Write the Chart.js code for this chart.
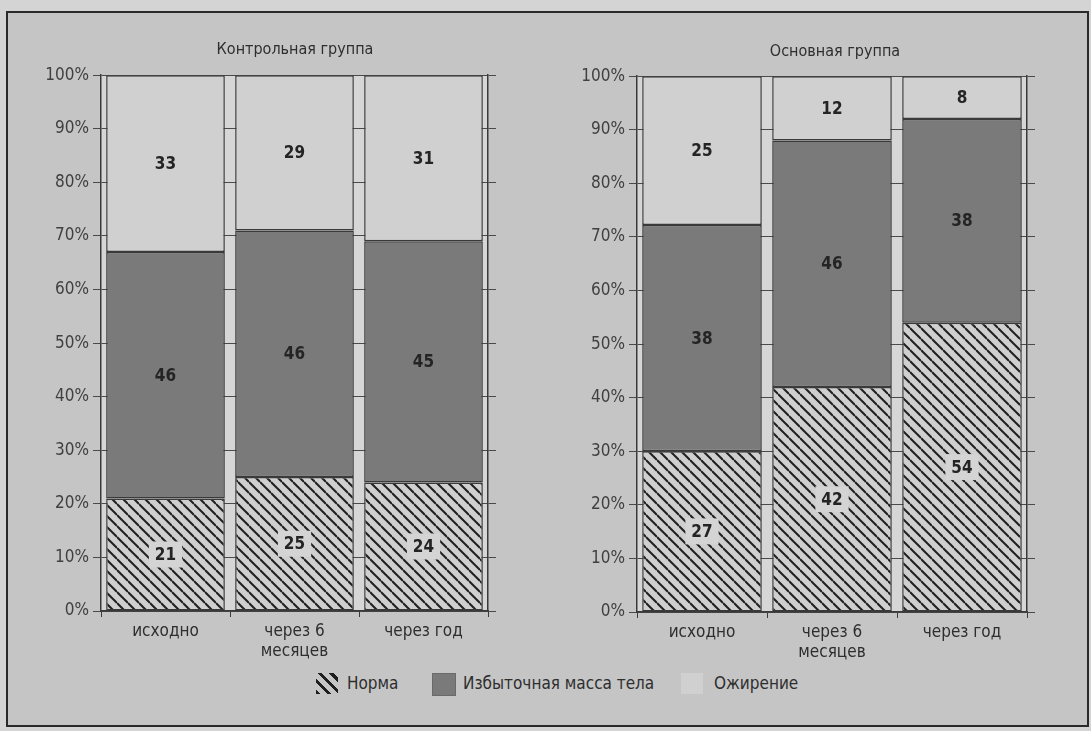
<!DOCTYPE html>
<html lang="ru">
<head>
<meta charset="utf-8">
<title>Динамика массы тела</title>
<script src="https://cdn.jsdelivr.net/npm/chart.js@4/dist/chart.umd.min.js"></script>
<style>
    body {
        margin: 0;
        background: #d4d4d4;
        font-family: 'Liberation Sans Narrow', 'DejaVu Sans Condensed', 'Roboto', sans-serif;
    }
    #frame {
        position: absolute;
        left: 6px;
        top: 11px;
        width: 1079px;
        height: 712px;
        border: 2px solid #2a2a2a;
        background: #c5c5c5;
    }
    .chartBox {
        position: absolute;
        top: 20px;
        width: 510px;
        height: 645px;
    }
    .legend-item {
        position: absolute;
        top: 673px;
        height: 21px;
        font-size: 17px;
        line-height: 21px;
        color: #2e2e2e;
    }
    .icon {
        position: absolute;
        top: 673px;
        width: 22px;
        height: 21px;
    }
</style>
</head>
<body>
<div id="frame"></div>
<div class="chartBox" style="left: 40px;"><canvas id="controlChart" width="510" height="645"></canvas></div>
<div class="chartBox" style="left: 580px;"><canvas id="mainChart" width="510" height="645"></canvas></div>

<div class="icon" style="left: 316px; background: repeating-linear-gradient(45deg, #1e1e1e 0 3px, transparent 3px 8px);"></div>
<div class="legend-item" style="left: 347px;">Норма</div>
<div class="icon" style="left: 432px; background: #7a7a7a; border: 1px solid #6a6a6a;"></div>
<div class="legend-item" style="left: 463px;">Избыточная масса тела</div>
<div class="icon" style="left: 681px; background: #d0d0d0;"></div>
<div class="legend-item" style="left: 714px;">Ожирение</div>

<script>
const FONT = "'Liberation Sans Narrow', 'DejaVu Sans Condensed', 'Roboto', sans-serif";

const categories = [['исходно'], ['через 6', 'месяцев'], ['через год']];
const seriesNames = ['Норма', 'Избыточная масса тела', 'Ожирение'];

// counts as printed on the bars
const controlNorma = [21, 25, 24];
const controlOverweight = [46, 46, 45];
const controlObese = [33, 29, 31];

const mainNorma = [27, 42, 54];
const mainOverweight = [38, 46, 38];
const mainObese = [25, 12, 8];

const yTicks = [0, 10, 20, 30, 40, 50, 60, 70, 80, 90, 100];

function makeHatch() {
    const s = 11;
    const c = document.createElement('canvas');
    c.width = s;
    c.height = s;
    const ctx = c.getContext('2d');
    ctx.fillStyle = '#cfcfcf';
    ctx.fillRect(0, 0, s, s);
    ctx.strokeStyle = '#1f1f1f';
    ctx.lineWidth = 2;
    for (let k = -1; k <= 1; k++) {
        ctx.beginPath();
        ctx.moveTo(0, k * s);
        ctx.lineTo(s, s + k * s);
        ctx.stroke();
    }
    return ctx.createPattern(c, 'repeat');
}

const hatch = makeHatch();

function toPercent(parts) {
    return parts[0].map((_, i) => {
        const total = parts.reduce((sum, p) => sum + p[i], 0);
        return parts.map(p => p[i] / total * 100);
    });
}

const plotBackground = {
    id: 'plotBackground',
    beforeDraw(chart) {
        const { ctx, chartArea } = chart;
        ctx.save();
        ctx.fillStyle = '#d6d6d6';
        ctx.fillRect(chartArea.left, chartArea.top, chartArea.right - chartArea.left, chartArea.bottom - chartArea.top);
        ctx.restore();
    }
};

const valueLabels = {
    id: 'valueLabels',
    afterDatasetsDraw(chart) {
        const ctx = chart.ctx;
        ctx.save();
        ctx.font = 'bold 17px ' + FONT;
        ctx.textAlign = 'center';
        ctx.textBaseline = 'middle';
        chart.data.datasets.forEach((ds, i) => {
            const meta = chart.getDatasetMeta(i);
            meta.data.forEach((bar, j) => {
                const { x, y, base } = bar.getProps(['x', 'y', 'base'], true);
                const cy = (y + base) / 2;
                const text = String(ds.counts[j]);
                if (ds.labelBox) {
                    const w = ctx.measureText(text).width + 12;
                    ctx.fillStyle = '#d4d4d4';
                    ctx.fillRect(x - w / 2, cy - 13, w, 26);
                }
                ctx.fillStyle = '#242424';
                ctx.fillText(text, x, cy + 1);
            });
        });
        ctx.restore();
    }
};

function buildChart(canvasId, title, norma, overweight, obese, layout) {
    const pct = toPercent([norma, overweight, obese]);
    const common = {
        borderColor: '#3a3a3a',
        borderWidth: 1.5,
        borderSkipped: false,
        barPercentage: 0.92,
        categoryPercentage: 1
    };
    const tickFont = { family: FONT, size: 17 };

    return new Chart(document.getElementById(canvasId).getContext('2d'), {
        type: 'bar',
        data: {
            labels: categories,
            datasets: [
                Object.assign({
                    label: seriesNames[0],
                    data: pct.map(r => r[0]),
                    counts: norma,
                    labelBox: true,
                    backgroundColor: hatch
                }, common),
                Object.assign({
                    label: seriesNames[1],
                    data: pct.map(r => r[1]),
                    counts: overweight,
                    backgroundColor: '#7a7a7a'
                }, common),
                Object.assign({
                    label: seriesNames[2],
                    data: pct.map(r => r[2]),
                    counts: obese,
                    backgroundColor: '#d0d0d0'
                }, common)
            ]
        },
        options: {
            responsive: false,
            animation: false,
            events: [],
            layout: { padding: 0 },
            plugins: {
                legend: { display: false },
                tooltip: { enabled: false },
                title: {
                    display: true,
                    text: title,
                    color: '#2e2e2e',
                    font: { family: FONT, size: 16, weight: 'normal' },
                    padding: { top: layout.titleTop, bottom: layout.titleBottom }
                }
            },
            scales: {
                x: {
                    stacked: true,
                    offset: true,
                    grid: {
                        offset: true,
                        drawOnChartArea: false,
                        tickLength: 6,
                        color: '#3a3a3a'
                    },
                    border: { color: '#3a3a3a', width: 1.5 },
                    ticks: {
                        color: '#2e2e2e',
                        font: Object.assign({ lineHeight: 1.2 }, tickFont),
                        padding: 4,
                        maxRotation: 0
                    },
                    afterFit: s => { s.height = layout.xHeight; }
                },
                y: {
                    stacked: true,
                    min: 0,
                    max: 100,
                    afterBuildTicks: s => { s.ticks = yTicks.map(v => ({ value: v })); },
                    grid: {
                        color: '#4a4a4a',
                        lineWidth: 1,
                        tickLength: 8
                    },
                    border: { color: '#3a3a3a', width: 1.5 },
                    ticks: {
                        color: '#404040',
                        font: tickFont,
                        padding: 4,
                        callback: v => v + '%'
                    },
                    afterFit: s => { s.width = layout.yWidth; }
                },
                y2: {
                    position: 'right',
                    min: 0,
                    max: 100,
                    afterBuildTicks: s => { s.ticks = yTicks.map(v => ({ value: v })); },
                    grid: {
                        drawOnChartArea: false,
                        color: '#4a4a4a',
                        tickLength: 8
                    },
                    border: { color: '#3a3a3a', width: 1.5 },
                    ticks: { display: false },
                    afterFit: s => { s.width = layout.rightWidth; }
                }
            }
        },
        plugins: [plotBackground, valueLabels]
    });
}

buildChart('controlChart', 'Контрольная группа', controlNorma, controlOverweight, controlObese,
    { titleTop: 20, titleBottom: 16, xHeight: 54, yWidth: 61, rightWidth: 62 });
buildChart('mainChart', 'Основная группа', mainNorma, mainOverweight, mainObese,
    { titleTop: 22, titleBottom: 15, xHeight: 53, yWidth: 57, rightWidth: 63 });
</script>
</body>
</html>
